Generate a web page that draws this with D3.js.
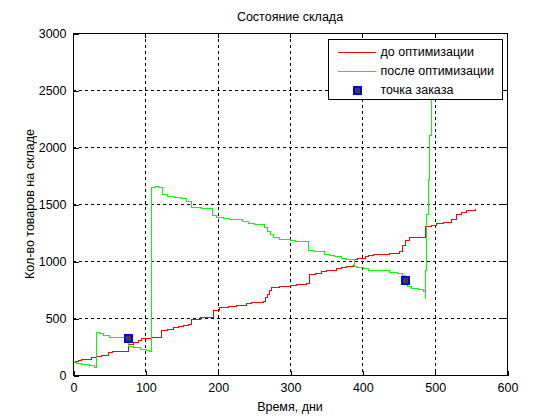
<!DOCTYPE html>
<html>
<head>
<meta charset="utf-8">
<script src="https://cdn.jsdelivr.net/npm/d3@7.9.0/dist/d3.min.js"></script>
<style>
  body { margin: 0; background: #fff; }
  svg { display: block; font-family: Arial, "Liberation Sans", sans-serif; }
</style>
</head>
<body>
<svg width="560" height="420"></svg>
<script>
// stock before optimisation (step points)
const redDays = [0, 4, 8, 12, 26, 32, 40, 49, 55, 77, 83, 90, 95, 109, 116, 122, 130, 139, 146, 153, 159, 164, 176, 194, 203, 215, 226, 240, 247, 263, 266, 269, 272, 275, 286, 300, 309, 323, 327, 335, 344, 351, 355, 364, 371, 378, 388, 389, 394, 404, 408, 415, 438, 452, 456, 460, 465, 487, 488, 496, 503, 512, 523, 530, 537, 544, 556];
const redStock = [108, 118, 128, 140, 150, 162, 175, 195, 202, 268, 285, 305, 316, 327, 333, 393, 402, 415, 424, 433, 444, 488, 506, 570, 590, 600, 608, 629, 638, 649, 680, 710, 740, 765, 775, 787, 795, 804, 883, 892, 904, 915, 921, 932, 944, 953, 959, 1009, 1020, 1038, 1046, 1059, 1070, 1082, 1140, 1184, 1208, 1290, 1301, 1313, 1325, 1339, 1360, 1404, 1424, 1447, 1453];

// stock after optimisation
const greenDays = [0, 5, 12, 23, 30, 32, 37, 42, 51, 77, 83, 93, 101, 106, 109, 114, 118, 124, 130, 134, 141, 150, 157, 164, 169, 178, 193, 199, 208, 217, 226, 235, 242, 251, 261, 265, 269, 273, 277, 286, 300, 307, 326, 332, 348, 355, 362, 371, 378, 385, 389, 392, 401, 408, 415, 438, 449, 455, 458, 463, 468, 477, 485, 487, 488, 489, 491, 493, 495];
const greenStock = [108, 100, 88, 79, 67, 374, 360, 348, 333, 250, 243, 228, 216, 208, 1646, 1652, 1643, 1579, 1570, 1564, 1555, 1544, 1526, 1472, 1468, 1462, 1395, 1383, 1374, 1368, 1360, 1345, 1331, 1322, 1316, 1290, 1262, 1235, 1208, 1192, 1184, 1175, 1088, 1079, 1061, 1050, 1041, 1020, 1015, 1009, 956, 944, 936, 921, 915, 901, 889, 877, 804, 775, 760, 746, 731, 667, 915, 1404, 1711, 2100, 2500];

// order points
const orderDays = [76, 459];
const orderStock = [326, 833];

const xTicks = [0, 100, 200, 300, 400, 500, 600];
const yTicks = [0, 500, 1000, 1500, 2000, 2500, 3000];

const legendLabels = ['до оптимизации', 'после оптимизации', 'точка заказа'];

const margin = { left: 73, right: 53, top: 33, bottom: 45 };
const width = 560, height = 420;
const svg = d3.select('svg');

const x = d3.scaleLinear().domain([0, 600]).range([margin.left, width - margin.right]);
const y = d3.scaleLinear().domain([0, 3000]).range([height - margin.bottom, margin.top]);

const plotW = width - margin.left - margin.right;
const plotH = height - margin.top - margin.bottom;

// grid
const grid = svg.append('g').attr('stroke', '#000').attr('stroke-dasharray', '3,3')
  .attr('stroke-width', 1).attr('shape-rendering', 'crispEdges');
xTicks.slice(1, -1).forEach(t => {
  grid.append('line').attr('x1', Math.round(x(t)) + 0.5).attr('x2', Math.round(x(t)) + 0.5)
    .attr('y1', y(3000)).attr('y2', y(0));
});
yTicks.slice(1, -1).forEach(t => {
  grid.append('line').attr('y1', Math.round(y(t)) + 0.5).attr('y2', Math.round(y(t)) + 0.5)
    .attr('x1', x(0)).attr('x2', x(600));
});

// lines
const redData = redDays.map((d, i) => [d, redStock[i]]);
const greenData = greenDays.map((d, i) => [d, greenStock[i]]);
const line = d3.line().x(d => x(d[0])).y(d => y(d[1])).curve(d3.curveStepAfter);

svg.append('path').datum(redData).attr('d', line).attr('shape-rendering', 'crispEdges')
  .attr('fill', 'none').attr('stroke', '#ff0000').attr('stroke-width', 1);
svg.append('path').datum(greenData).attr('d', line).attr('shape-rendering', 'crispEdges')
  .attr('fill', 'none').attr('stroke', '#00ff00').attr('stroke-width', 1);

// order markers
orderDays.forEach((d, i) => {
  svg.append('rect')
    .attr('x', Math.round(x(d)) - 3.5).attr('y', Math.round(y(orderStock[i])) - 3.5)
    .attr('width', 7).attr('height', 7).attr('shape-rendering', 'crispEdges')
    .attr('fill', '#404040').attr('stroke', '#0000ff').attr('stroke-width', 2);
});

// axes box
svg.append('rect').attr('x', margin.left + 0.5).attr('y', margin.top + 0.5)
  .attr('width', plotW).attr('height', plotH).attr('shape-rendering', 'crispEdges')
  .attr('fill', 'none').attr('stroke', '#000');

const xAxis = d3.axisBottom(x).tickValues(xTicks).tickSize(-5).tickPadding(8).tickFormat(d3.format('d'));
const yAxis = d3.axisLeft(y).tickValues(yTicks).tickSize(-5).tickPadding(7).tickFormat(d3.format('d'));

const gx = svg.append('g').attr('transform', `translate(0.5,${height - margin.bottom + 0.5})`).call(xAxis);
const gy = svg.append('g').attr('transform', `translate(${margin.left + 0.5},0.5)`).call(yAxis);
[gx, gy].forEach(g => {
  g.select('.domain').remove();
  g.selectAll('text').attr('font-size', 12.5).attr('fill', '#000').attr('font-family', 'Arial, "Liberation Sans", sans-serif');
  g.selectAll('line').attr('stroke', '#000').attr('shape-rendering', 'crispEdges');
});
// top/right ticks
const ticks = svg.append('g').attr('stroke', '#000').attr('shape-rendering', 'crispEdges');
xTicks.forEach(t => {
  ticks.append('line').attr('x1', Math.round(x(t)) + 0.5).attr('x2', Math.round(x(t)) + 0.5)
    .attr('y1', margin.top).attr('y2', margin.top + 5);
});
yTicks.forEach(t => {
  ticks.append('line').attr('y1', Math.round(y(t)) + 0.5).attr('y2', Math.round(y(t)) + 0.5)
    .attr('x1', width - margin.right).attr('x2', width - margin.right - 5);
});

// titles
svg.append('text').attr('x', (x(0) + x(600)) / 2).attr('y', 21)
  .attr('text-anchor', 'middle').attr('font-size', 12.5).text('Состояние склада');
svg.append('text').attr('x', (x(0) + x(600)) / 2).attr('y', 411)
  .attr('text-anchor', 'middle').attr('font-size', 12.5).text('Время, дни');
svg.append('text').attr('transform', `translate(34,${(y(0) + y(3000)) / 2}) rotate(-90)`)
  .attr('text-anchor', 'middle').attr('font-size', 12.5).text('Кол-во товаров на складе');

// legend
const lg = svg.append('g').attr('transform', 'translate(328.5,39.5)');
lg.append('rect').attr('width', 174).attr('height', 60).attr('fill', '#fff').attr('stroke', '#000')
  .attr('shape-rendering', 'crispEdges');
const colors = ['#ff0000', '#00ff00'];
legendLabels.forEach((label, i) => {
  const yy = 12.5 + i * 19;
  if (i < 2) {
    lg.append('line').attr('x1', 9).attr('x2', 47).attr('y1', yy).attr('y2', yy)
      .attr('stroke', colors[i]).attr('shape-rendering', 'crispEdges');
  } else {
    lg.append('rect').attr('x', 25).attr('y', yy - 3.5).attr('width', 7).attr('height', 7)
      .attr('shape-rendering', 'crispEdges')
      .attr('fill', '#404040').attr('stroke', '#0000ff').attr('stroke-width', 2);
  }
  lg.append('text').attr('x', 52).attr('y', yy + 4).attr('font-size', 12.5).text(label);
});
</script>
</body>
</html>
